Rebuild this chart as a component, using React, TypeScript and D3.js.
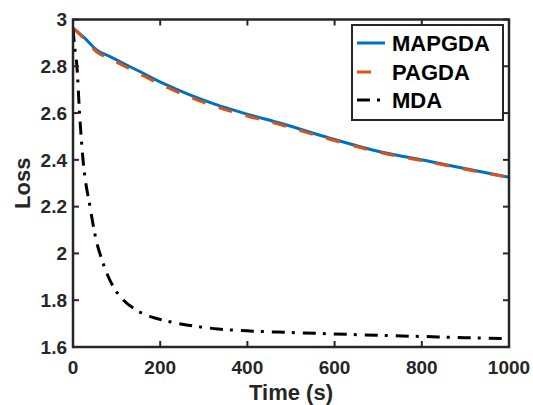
import React from "react";
import * as d3 from "d3";

const xTicks = [0, 200, 400, 600, 800, 1000];
const yTicks = [1.6, 1.8, 2, 2.2, 2.4, 2.6, 2.8, 3];

const mapgdaT = [0, 27, 54, 85, 146, 207, 268, 330, 391, 482, 589, 704, 819, 933, 1000];
const mapgdaV = [2.964, 2.92, 2.87, 2.841, 2.784, 2.727, 2.678, 2.635, 2.6, 2.553, 2.493, 2.435, 2.393, 2.35, 2.325];

const pagdaT = [0, 27, 54, 85, 146, 207, 268, 330, 391, 482, 589, 704, 819, 933, 1000];
const pagdaV = [2.964, 2.915, 2.862, 2.832, 2.774, 2.717, 2.668, 2.626, 2.592, 2.547, 2.488, 2.432, 2.39, 2.348, 2.325];

const mdaT = [0, 4, 9, 15, 23, 39, 54, 66, 78, 93, 116, 147, 186, 225, 264, 291, 333, 398, 500, 596, 700, 800, 900, 1000];
const mdaV = [2.96, 2.88, 2.8, 2.6, 2.4, 2.2, 2.05, 1.975, 1.913, 1.856, 1.8, 1.756, 1.725, 1.707, 1.693, 1.686, 1.677, 1.669, 1.662, 1.656, 1.65, 1.645, 1.64, 1.636];

const seriesNames = ["MAPGDA", "PAGDA", "MDA"];
const seriesColors = ["#0072BD", "#D95319", "#000000"];
const seriesDash = ["none", "14 14", "13 7 3 8"];

const W = 533;
const H = 405;
const L = 73;
const R = 509;
const T = 19.5;
const B = 347;
const axisColor = "#262626";
const font = "'Liberation Sans', Arial, Helvetica, sans-serif";

export default function App() {
  const x = d3.scaleLinear().domain([0, 1000]).range([L, R]);
  const y = d3.scaleLinear().domain([1.6, 3]).range([B, T]);
  const line = d3
    .line<[number, number]>()
    .x((d) => x(d[0]))
    .y((d) => y(d[1]))
    .curve(d3.curveMonotoneX);

  const series = [
    mapgdaT.map((t, i) => [t, mapgdaV[i]] as [number, number]),
    pagdaT.map((t, i) => [t, pagdaV[i]] as [number, number]),
    mdaT.map((t, i) => [t, mdaV[i]] as [number, number]),
  ];

  const tickLen = 6;
  const legX = 352;
  const legY = 25;
  const legW = 151;
  const legH = 95;
  const rowY = [43, 72, 100];

  return (
    <svg
      width={W}
      height={H}
      style={{ position: "absolute", left: 0, top: 0, background: "#fff" }}
      fontFamily={font}
    >
      <defs>
        <clipPath id="plotclip">
          <rect x={L} y={T - 2} width={R - L} height={B - T + 4} />
        </clipPath>
      </defs>
      <rect x={0} y={0} width={W} height={H} fill="#fff" />
      <g clipPath="url(#plotclip)">
        {series.map((s, i) => (
          <path
            key={i}
            d={line(s) || ""}
            fill="none"
            stroke={seriesColors[i]}
            strokeWidth={3}
            strokeDasharray={seriesDash[i]}
          />
        ))}
      </g>
      {/* ticks */}
      {yTicks.map((t) => (
        <g key={"y" + t}>
          <line x1={L} x2={L + tickLen} y1={y(t)} y2={y(t)} stroke={axisColor} strokeWidth={2} />
          <line x1={R} x2={R - tickLen} y1={y(t)} y2={y(t)} stroke={axisColor} strokeWidth={2} />
          <text
            x={L - 6}
            y={y(t)}
            dy="0.36em"
            textAnchor="end"
            fontSize={19}
            fontWeight="bold"
            fill={axisColor}
          >
            {String(t)}
          </text>
        </g>
      ))}
      {xTicks.map((t) => (
        <g key={"x" + t}>
          <line x1={x(t)} x2={x(t)} y1={B} y2={B - tickLen} stroke={axisColor} strokeWidth={2} />
          <line x1={x(t)} x2={x(t)} y1={T} y2={T + tickLen} stroke={axisColor} strokeWidth={2} />
          <text
            x={x(t)}
            y={374}
            textAnchor="middle"
            fontSize={19}
            fontWeight="bold"
            fill={axisColor}
          >
            {String(t)}
          </text>
        </g>
      ))}
      <rect x={L} y={T} width={R - L} height={B - T} fill="none" stroke={axisColor} strokeWidth={2.5} />
      <text
        x={(L + R) / 2}
        y={400}
        textAnchor="middle"
        fontSize={22}
        fontWeight="bold"
        fill={axisColor}
      >
        Time (s)
      </text>
      <text
        transform={`translate(30, ${(T + B) / 2}) rotate(-90)`}
        textAnchor="middle"
        fontSize={22}
        fontWeight="bold"
        fill={axisColor}
      >
        Loss
      </text>
      {/* legend */}
      <rect x={legX} y={legY} width={legW} height={legH} fill="#fff" stroke={axisColor} strokeWidth={2} />
      {seriesNames.map((n, i) => (
        <g key={n}>
          <line
            x1={357}
            x2={385}
            y1={rowY[i]}
            y2={rowY[i]}
            stroke={seriesColors[i]}
            strokeWidth={3}
            strokeDasharray={seriesDash[i]}
          />
          <text
            x={392}
            y={rowY[i]}
            dy="0.36em"
            fontSize={22}
            fontWeight="bold"
            fill="#000"
          >
            {n}
          </text>
        </g>
      ))}
    </svg>
  );
}
